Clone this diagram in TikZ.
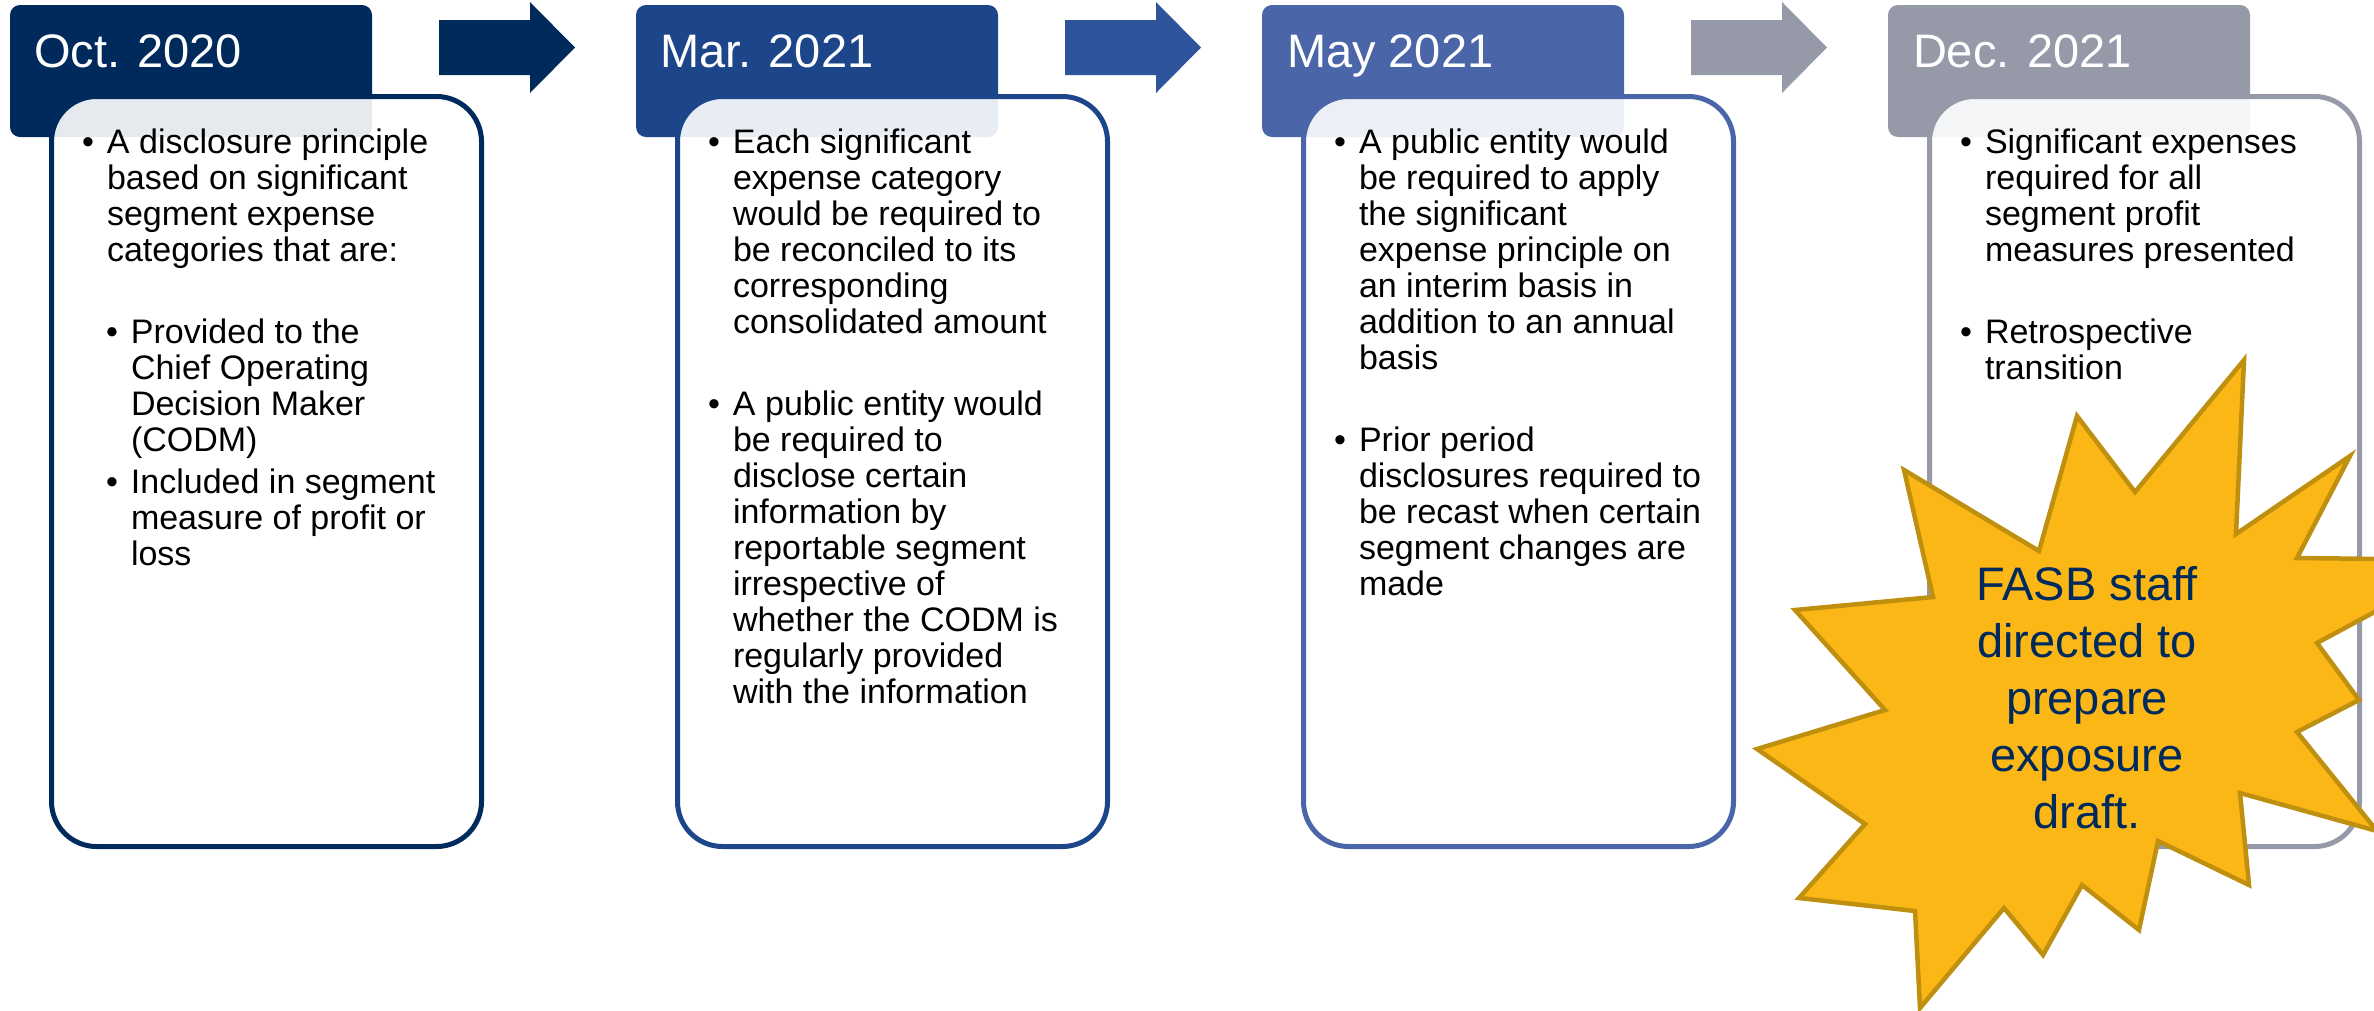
\documentclass[tikz,border=0pt]{standalone}
\usepackage{fontspec}
\setmainfont{Liberation Sans}
\definecolor{cA}{RGB}{0,41,92}
\definecolor{cB}{RGB}{28,69,138}
\definecolor{cBa}{RGB}{46,85,155}
\definecolor{cC}{RGB}{74,101,168}
\definecolor{cD}{RGB}{149,153,168}
\definecolor{starfill}{RGB}{251,183,21}
\definecolor{starline}{RGB}{191,143,15}
\newcommand{\bul}{\makebox[19pt][l]{\hspace{-6pt}•}}
\tikzset{
  hdr/.style={rectangle, rounded corners=10pt, minimum width=362pt, minimum height=132pt, inner sep=0pt, outer sep=0pt, fill=#1},
  bodybox/.style={rectangle, rounded corners=45pt, minimum width=430pt, minimum height=750pt, inner sep=0pt, outer sep=0pt, draw=#1, line width=5pt, fill=white, fill opacity=0.9, draw opacity=1, text opacity=1},
  hdrtxt/.style={anchor=base west, inner sep=0pt, outer sep=0pt, text=white, font=\fontsize{47}{56}\selectfont},
  bodytxt/.style={anchor=base west, inner sep=0pt, outer sep=0pt, text=black, font=\fontsize{34}{36}\selectfont},
  arrowshape/.style={fill=#1},
  burst/.style={fill=starfill, draw=starline, line width=4.5pt},
  bursttxt/.style={anchor=base, inner sep=0pt, outer sep=0pt, text=cA, font=\fontsize{47}{57}\selectfont}
}
\begin{document}
\begin{tikzpicture}[x=1pt,y=-1pt]
\useasboundingbox (0,0) rectangle (2374,1010);
% arrows
\fill[arrowshape=cA]  (439,20) -- (530,20) -- (530,2) -- (575,47.5) -- (530,93) -- (530,75) -- (439,75) -- cycle;
\fill[arrowshape=cBa] (1065,20) -- (1156,20) -- (1156,2) -- (1201,47.5) -- (1156,93) -- (1156,75) -- (1065,75) -- cycle;
\fill[arrowshape=cD]  (1691,20) -- (1782,20) -- (1782,2) -- (1827,47.5) -- (1782,93) -- (1782,75) -- (1691,75) -- cycle;
% headers
\node[hdr=cA] (h1) at (191,71) {};
\node[hdr=cB] (h2) at (817,71) {};
\node[hdr=cC] (h3) at (1443,71) {};
\node[hdr=cD] (h4) at (2069,71) {};
% bodies
\node[bodybox=cA] (b1) at (266.5,471.5) {};
\node[bodybox=cB] (b2) at (892.5,471.5) {};
\node[bodybox=cC] (b3) at (1518.5,471.5) {};
\node[bodybox=cD] (b4) at (2144.5,471.5) {};
% header texts
\node[hdrtxt] (d1) at (34,67) {Oct. 2020};
\node[hdrtxt] (d2) at (660,67) {Mar. 2021};
\node[hdrtxt] (d3) at (1287,67) {May 2021};
\node[hdrtxt] (d4) at (1913,67) {Dec. 2021};
% column 1
\node[bodytxt] (t1a) at (88,153) {\bul\begin{tabular}[t]{@{}l@{}}A disclosure principle\\based on significant\\segment expense\\categories that are:\end{tabular}};
\node[bodytxt] (t1b) at (112,343) {\bul\begin{tabular}[t]{@{}l@{}}Provided to the\\Chief Operating\\Decision Maker\\(CODM)\end{tabular}};
\node[bodytxt] (t1c) at (112,493) {\bul\begin{tabular}[t]{@{}l@{}}Included in segment\\measure of profit or\\loss\end{tabular}};
% column 2
\node[bodytxt] (t2a) at (714,153) {\bul\begin{tabular}[t]{@{}l@{}}Each significant\\expense category\\would be required to\\be reconciled to its\\corresponding\\consolidated amount\end{tabular}};
\node[bodytxt] (t2b) at (714,415) {\bul\begin{tabular}[t]{@{}l@{}}A public entity would\\be required to\\disclose certain\\information by\\reportable segment\\irrespective of\\whether the CODM is\\regularly provided\\with the information\end{tabular}};
% column 3
\node[bodytxt] (t3a) at (1340,153) {\bul\begin{tabular}[t]{@{}l@{}}A public entity would\\be required to apply\\the significant\\expense principle on\\an interim basis in\\addition to an annual\\basis\end{tabular}};
\node[bodytxt] (t3b) at (1340,451) {\bul\begin{tabular}[t]{@{}l@{}}Prior period\\disclosures required to\\be recast when certain\\segment changes are\\made\end{tabular}};
% column 4
\node[bodytxt] (t4a) at (1966,153) {\bul\begin{tabular}[t]{@{}l@{}}Significant expenses\\required for all\\segment profit\\measures presented\end{tabular}};
\node[bodytxt] (t4b) at (1966,343) {\bul\begin{tabular}[t]{@{}l@{}}Retrospective\\transition\end{tabular}};
% starburst
\draw[burst] (2244,360) -- (2236,534) -- (2350,456) -- (2297,558) -- (2471,560) -- (2317,643) -- (2359,700) -- (2297,732) -- (2377,831) -- (2240,793) -- (2249,885) -- (2158,841) -- (2139,930) -- (2082,885) -- (2043,955) -- (2004,908) -- (1920,1008) -- (1915,911) -- (1799,898) -- (1865,824) -- (1757,749) -- (1885,710) -- (1795,610) -- (1933,597) -- (1904,470) -- (2039,551) -- (2077,416) -- (2135,492) -- cycle;
\node[bursttxt] (fasb) at (2087,600) {\begin{tabular}[t]{@{}c@{}}FASB staff\\directed to\\prepare\\exposure\\draft.\end{tabular}};
\end{tikzpicture}
\end{document}
